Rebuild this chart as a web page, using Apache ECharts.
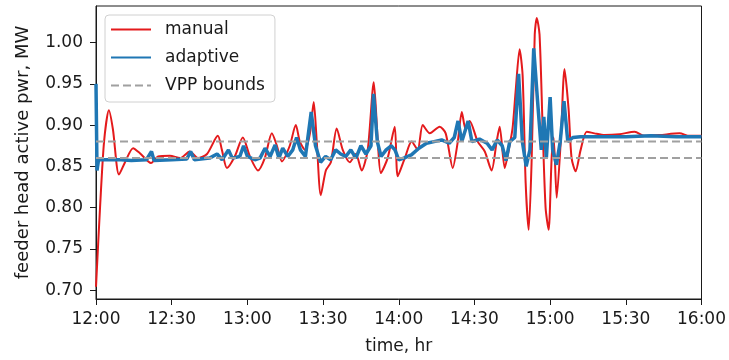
<!doctype html>
<html lang="en">
  <head>
    <meta charset="utf-8">
    <title>Feeder head active power</title>
    <script src="https://cdn.jsdelivr.net/npm/echarts@6.0.0/dist/echarts.min.js"></script>
    <style>
      html, body { margin: 0; padding: 0; background: #fff; }
      #chart { width: 729px; height: 360px; }
    </style>
  </head>
  <body>
    <div id="chart"></div>

  <script>
    // time in minutes after 12:00
    var manualT = [0, 1.6, 3.2, 5.1, 6.7, 9.1, 11.5, 14.7, 17.4, 21.8, 24.6, 29.3, 33.3, 37.2, 40.4, 44,
      48.3, 49.9, 51.9, 55, 58.2, 61, 64.2, 66.9, 69.7, 71.7, 73.7, 76.8, 79.2, 80.8, 82.8, 84.8,
      86.3, 87.5, 89.1, 91.1, 93.1, 95.4, 97.8, 100.6, 103, 105.3, 107.7, 110.1, 111.7, 112.9, 115.6,
      118.4, 119.6, 122.4, 125.1, 127.5, 129.5, 132.3, 136.2, 138.6, 141.4, 143.4, 145, 146.5, 148.1,
      151.3, 154.1, 156.8, 158.8, 160, 162, 163.6, 165.1, 166.3, 167.9, 169.1, 170.3, 171.5, 172.7,
      173.9, 174.7, 175.8, 177, 178.2, 179.4, 180.6, 181.4, 182.6, 184.2, 185.7, 187.3, 188.5, 190.1,
      192.1, 194.5, 197.6, 201.6, 207.5, 213.5, 217.4, 223.4, 231.3, 235.2, 240];
    var manualV = [0.704, 0.80, 0.88, 0.918, 0.895, 0.840, 0.855, 0.872, 0.866, 0.854, 0.862, 0.863, 0.860, 0.868, 0.860, 0.865,
      0.887, 0.870, 0.848, 0.862, 0.885, 0.862, 0.845, 0.860, 0.890, 0.875, 0.856, 0.875, 0.900, 0.880, 0.870, 0.890,
      0.928, 0.880, 0.815, 0.845, 0.855, 0.896, 0.870, 0.855, 0.865, 0.845, 0.870, 0.952, 0.880, 0.842, 0.860,
      0.898, 0.838, 0.860, 0.880, 0.870, 0.900, 0.890, 0.898, 0.890, 0.848, 0.880, 0.916, 0.895, 0.905,
      0.880, 0.868, 0.845, 0.880, 0.898, 0.848, 0.870, 0.896, 0.940, 0.992, 0.960, 0.830, 0.773, 0.860,
      1.010, 1.030, 1.010, 0.900, 0.800, 0.773, 0.860, 0.885, 0.812, 0.880, 0.968, 0.920, 0.860, 0.844,
      0.870, 0.892, 0.890, 0.888, 0.889, 0.892, 0.887, 0.888, 0.890, 0.887, 0.887];

    var adaptiveT = [0, 0.4, 1, 10, 14, 20, 22, 23, 30, 36, 37.5, 39, 45, 48, 50, 52.5, 54, 57, 58.5, 60,
      63, 65, 67, 69, 71, 72.5, 74, 76, 78, 79.5, 81, 83, 85.3, 87, 89, 91, 93, 95, 97, 99, 101, 103,
      105, 107, 109, 110, 111.5, 113, 115, 117, 118.5, 120, 122, 125, 128, 131, 134, 137, 140, 142,
      143.5, 145, 146.5, 147.5, 149, 152, 155, 157, 159, 161, 162.5, 164, 166, 167.5, 169, 170.5, 172,
      173.5, 175, 176.5, 177.5, 178.5, 180, 181, 182.5, 184, 185.5, 187, 189, 192, 200, 210, 220, 230, 240];
    var adaptiveV = [0.950, 0.845, 0.858, 0.858, 0.857, 0.858, 0.868, 0.857, 0.858, 0.859, 0.868, 0.858, 0.860, 0.865, 0.858, 0.870, 0.860, 0.862, 0.875, 0.862,
      0.858, 0.860, 0.872, 0.862, 0.876, 0.860, 0.872, 0.862, 0.870, 0.885, 0.870, 0.862, 0.916, 0.875, 0.855, 0.862, 0.858, 0.870, 0.865, 0.862, 0.870, 0.860,
      0.875, 0.865, 0.875, 0.938, 0.880, 0.862, 0.870, 0.875, 0.870, 0.858, 0.860, 0.864, 0.872, 0.878, 0.880, 0.882, 0.878, 0.885,
      0.905, 0.880, 0.895, 0.905, 0.880, 0.883, 0.878, 0.870, 0.882, 0.875, 0.857, 0.880, 0.885, 0.962, 0.880, 0.850, 0.870,
      0.993, 0.930, 0.870, 0.910, 0.860, 0.934, 0.870, 0.852, 0.880, 0.929, 0.880, 0.885, 0.886, 0.886, 0.886, 0.887, 0.886, 0.886];

    var vppBounds = [0.86, 0.88];
    var xTickLabels = ['12:00', '12:30', '13:00', '13:30', '14:00', '14:30', '15:00', '15:30', '16:00'];
    var yTicks = [0.70, 0.75, 0.80, 0.85, 0.90, 0.95, 1.00];

    function pairs(t, v) {
      var out = [];
      for (var i = 0; i < t.length; i++) out.push([t[i], v[i]]);
      return out;
    }

    var chart = echarts.init(document.getElementById('chart'), null, { renderer: 'canvas' });
    var font = 'DejaVu Sans';
    var ink = '#1a1a1a';

    var option = {
      animation: false,
      textStyle: { fontFamily: font },
      grid: { left: 96, right: 27, top: 6, bottom: 58, show: true, borderColor: ink, borderWidth: 1 },
      legend: {
        left: 105, top: 15, orient: 'vertical',
        itemWidth: 40, itemHeight: 14, itemGap: 11,
        padding: [6, 10, 8, 5],
        borderColor: '#d0d0d0', borderWidth: 1, borderRadius: 4,
        backgroundColor: 'rgba(255,255,255,0.8)',
        itemStyle: { opacity: 0 },
        textStyle: { fontFamily: font, fontSize: 17, lineHeight: 17, color: ink, padding: [0, 0, 0, 9] },
        data: ['manual', 'adaptive', 'VPP bounds']
      },
      xAxis: {
        type: 'value', min: 0, max: 240, interval: 30,
        name: 'time, hr', nameLocation: 'middle', nameGap: 39,
        nameTextStyle: { fontFamily: font, fontSize: 17, color: ink },
        axisLine: { lineStyle: { color: ink, width: 1 } },
        axisTick: { length: 6, lineStyle: { color: ink } },
        axisLabel: { fontFamily: font, fontSize: 17, color: ink, margin: 12,
          formatter: function (v) { return xTickLabels[Math.round(v / 30)]; } },
        splitLine: { show: false }
      },
      yAxis: {
        type: 'value', min: 0.6892, max: 1.0444,
        name: 'feeder head active pwr, MW', nameLocation: 'middle', nameGap: 64,
        nameTextStyle: { fontFamily: font, fontSize: 18, color: ink },
        axisLine: { show: true, lineStyle: { color: ink, width: 1 } },
        axisTick: { show: true, length: 6, lineStyle: { color: ink }, customValues: yTicks },
        axisLabel: { fontFamily: font, fontSize: 17, color: ink, margin: 13, customValues: yTicks,
          formatter: function (v) { return v.toFixed(2); } },
        splitLine: { show: false }
      },
      series: [
        {
          name: 'manual', type: 'line', showSymbol: false, symbol: 'none', smooth: 0.25,
          data: pairs(manualT, manualV),
          lineStyle: { color: '#e41a1c', width: 2 }, itemStyle: { color: '#e41a1c' }, z: 2
        },
        {
          name: 'adaptive', type: 'line', showSymbol: false, symbol: 'none',
          data: pairs(adaptiveT, adaptiveV),
          lineStyle: { color: '#1f77b4', width: 3.5 }, itemStyle: { color: '#1f77b4' }, z: 3
        },
        {
          name: 'VPP bounds', type: 'line', showSymbol: false, symbol: 'none',
          data: [[0, vppBounds[1]], [240, vppBounds[1]]],
          lineStyle: { color: '#a0a0a0', width: 2, type: [8, 4] }, itemStyle: { color: '#a0a0a0' }, z: 4
        },
        {
          name: 'VPP bounds', type: 'line', showSymbol: false, symbol: 'none',
          data: [[0, vppBounds[0]], [240, vppBounds[0]]],
          lineStyle: { color: '#a0a0a0', width: 2, type: [8, 4] }, itemStyle: { color: '#a0a0a0' }, z: 4
        }
      ]
    };

    chart.setOption(option);
  </script>
  </body>
</html>
